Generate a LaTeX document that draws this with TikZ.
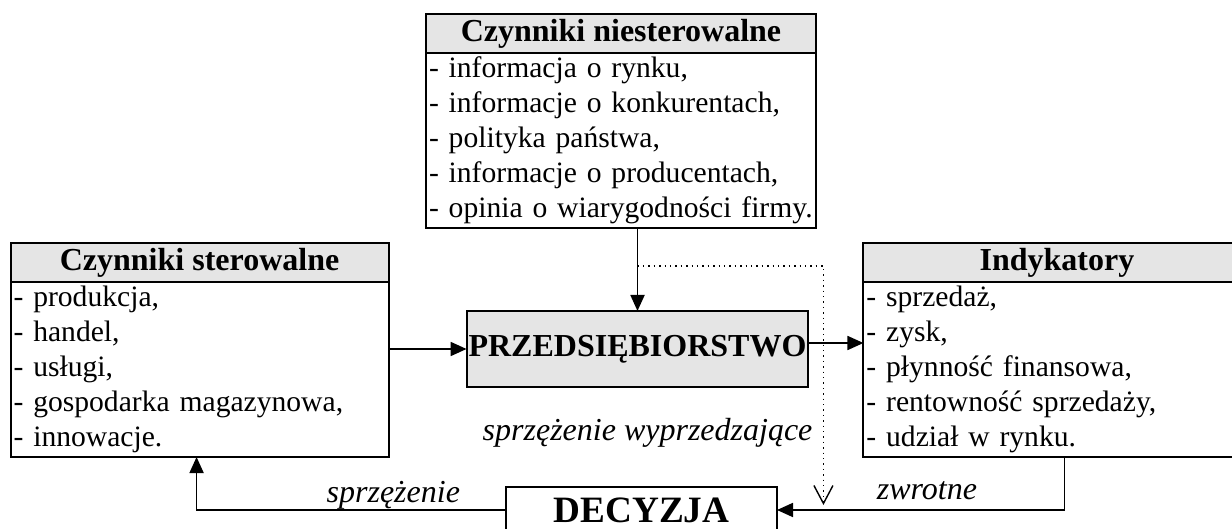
\documentclass[tikz,border=0pt]{standalone}
\usepackage{fontspec}
\setmainfont{Liberation Serif}
\usetikzlibrary{arrows.meta, positioning, calc}

\begin{document}
\begin{tikzpicture}[
    outer sep=0pt,
    hdr/.style={rectangle, draw, line width=1pt, fill=black!10, minimum height=19.5pt, inner sep=0pt, font=\fontsize{16}{19}\selectfont\bfseries},
    lst/.style={rectangle, draw, line width=1pt, fill=white, minimum height=87.5pt, inner xsep=1.5pt, inner ysep=0pt, align=left, font=\fontsize{14.8}{17.5}\selectfont},
    core/.style={rectangle, draw, line width=1pt, fill=black!10, minimum width=170.5pt, minimum height=38pt, inner sep=1pt, font=\fontsize{16}{19}\selectfont\bfseries},
    decbox/.style={rectangle, draw, line width=1pt, fill=white, minimum width=135.5pt, minimum height=23pt, inner sep=0pt, font=\fontsize{18.6}{22}\selectfont\bfseries},
    lbl/.style={inner sep=0pt, font=\fontsize{16}{19}\selectfont\itshape},
    arrow/.style={-{Triangle[length=8pt, width=7pt]}, line width=0.9pt},
    dotarrow/.style={-{Straight Barb[length=9pt, width=9.5pt]}, dotted, line width=0.7pt}
]
    \useasboundingbox (0,0) rectangle (616pt,-264.5pt);

    \node[core] (prz) at (318.75pt,-174.5pt) {PRZEDSIĘBIORSTWO};

    % czynniki niesterowalne
    \node[lst, text width=192pt, above=41.5pt of prz, xshift=-8.25pt] (nstb) {- informacja o rynku,\\- informacje o konkurentach,\\- polityka państwa,\\- informacje o producentach,\\\mbox{- opinia o wiarygodności firmy.}};
    \node[hdr, minimum width=195pt, above=0pt of nstb] (nsth) {Czynniki niesterowalne};

    % czynniki sterowalne
    \node[lst, text width=186pt, left=39pt of prz, yshift=-10.25pt] (stb) {- produkcja,\\- handel,\\- usługi,\\- gospodarka magazynowa,\\- innowacje.};
    \node[hdr, minimum width=189pt, above=0pt of stb] (sth) {Czynniki sterowalne};

    % indykatory
    \node[lst, text width=190.5pt, right=27.5pt of prz, yshift=-10.25pt] (indb) {- sprzedaż,\\- zysk,\\- płynność finansowa,\\- rentowność sprzedaży,\\- udział w rynku.};
    \node[hdr, minimum width=193.5pt, above=0pt of indb] (indh) {Indykatory};

    \node[decbox, below=50pt of prz, xshift=2pt] (dec) {DECYZJA};

    \draw[arrow] (nstb.south -| prz.north) -- (prz.north);
    \draw[arrow] (stb.east |- prz.west) -- (prz.west);
    \draw[arrow] ([yshift=3pt]prz.east) -- ([yshift=3pt]prz.east -| indb.west);
    \draw[arrow] ([xshift=100.5pt]indb.south west) |- (dec.east);
    \draw[arrow] (dec.west) -| ([xshift=93pt]stb.south west);

    \coordinate (ffs) at ($(prz.north)+(0,22.5pt)$);
    \coordinate (ffe) at ($(prz.east |- dec.east)+(7.5pt,2.5pt)$);
    \draw[dotarrow] (ffs) -| (ffe);

    \node[lbl, anchor=base east] (fbl) at ([xshift=-23pt, yshift=4pt]dec.west) {sprzężenie};
    \node[lbl, anchor=base] (fbr) at ([xshift=75pt, yshift=5.5pt]dec.east) {zwrotne};
    \node[lbl, anchor=base east] (ffl) at ([xshift=2pt, yshift=-26.5pt]prz.south east) {sprzężenie wyprzedzające};
\end{tikzpicture}
\end{document}
